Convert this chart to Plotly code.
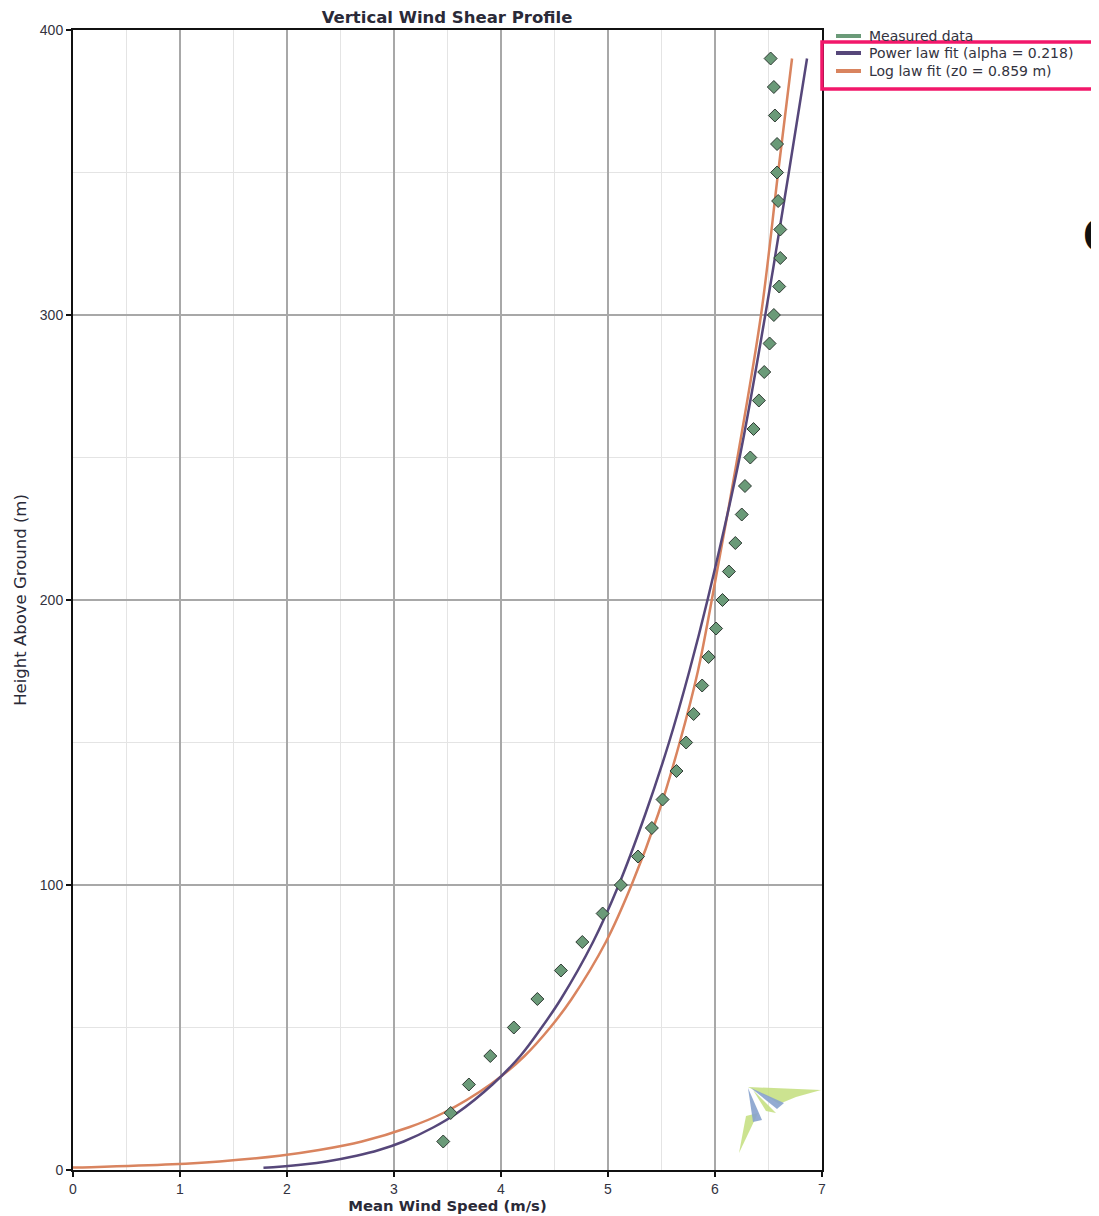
import plotly.graph_objects as go

# ---------------- data ----------------
meas_height = [10, 20, 30, 40, 50, 60, 70, 80, 90, 100, 110, 120, 130, 140, 150,
               160, 170, 180, 190, 200, 210, 220, 230, 240, 250, 260, 270, 280,
               290, 300, 310, 320, 330, 340, 350, 360, 370, 380, 390]
meas_speed = [3.46, 3.53, 3.70, 3.90, 4.12, 4.34, 4.56, 4.76, 4.95, 5.12, 5.28, 5.41,
              5.51, 5.64, 5.73, 5.80, 5.88, 5.94, 6.01, 6.07, 6.13, 6.19, 6.25, 6.28,
              6.33, 6.36, 6.41, 6.46, 6.51, 6.55, 6.60, 6.61, 6.61, 6.59, 6.58, 6.58,
              6.56, 6.55, 6.52]

power_height = [0.8, 1, 2, 3, 5, 7, 10, 15, 20, 30, 40, 50, 60, 80, 100, 125, 150,
                175, 200, 250, 300, 350, 390]
power_speed = [1.78, 1.87, 2.17, 2.37, 2.65, 2.86, 3.09, 3.37, 3.59, 3.92, 4.18, 4.38,
               4.56, 4.86, 5.10, 5.35, 5.57, 5.76, 5.93, 6.23, 6.47, 6.69, 6.86]

log_height = [0.86, 1, 2, 3, 5, 7, 10, 15, 20, 30, 40, 50, 60, 80, 100, 125, 150,
              175, 200, 250, 300, 350, 390]
log_speed = [0.0, 0.17, 0.93, 1.37, 1.93, 2.30, 2.70, 3.14, 3.46, 3.90, 4.22, 4.46,
             4.66, 4.98, 5.22, 5.47, 5.67, 5.84, 5.97, 6.21, 6.43, 6.59, 6.72]

x_ticks = [0, 1, 2, 3, 4, 5, 6, 7]
y_ticks = [0, 100, 200, 300, 400]

title_text = "Vertical Wind Shear Profile"
x_title = "Mean Wind Speed (m/s)"
y_title = "Height Above Ground (m)"
name_meas = "Measured data"
name_power = "Power law fit (alpha = 0.218)"
name_log = "Log law fit (z0 = 0.859 m)"

# ---------------- styling ----------------
OFF = 8                      # page body margin of the html output
W, H = 1099 - OFF, 1216 - OFF
L, T = 73 - OFF, 30 - OFF
PW, PH = 749, 1140           # plot area size in pixels
R, B = W - L - PW, H - T - PH
FONT = "Liberation Sans, Arial, sans-serif"
WIDE = "DejaVu Sans, Verdana, sans-serif"
GREEN = "#6a9a78"
PURPLE = "#56477a"
ORANGE = "#d9845f"
TXT = "#333340"


def px2paper(px, py):
    """page pixel -> paper fraction (for decorations only)"""
    return (px - OFF - L) / PW, (T + PH - (py - OFF)) / PH


fig = go.Figure()

fig.add_trace(go.Scatter(
    x=log_speed, y=log_height, mode="lines", name=name_log,
    line=dict(color=ORANGE, width=2.5, shape="spline")))
fig.add_trace(go.Scatter(
    x=power_speed, y=power_height, mode="lines", name=name_power,
    line=dict(color=PURPLE, width=2.5, shape="spline")))
fig.add_trace(go.Scatter(
    x=meas_speed, y=meas_height, mode="markers", name=name_meas,
    marker=dict(symbol="diamond", size=10, color=GREEN,
                line=dict(color="#2f3a33", width=1))))

shapes = []
annotations = []

# hand-placed legend (line swatches + labels)
for (nm, col, py) in [(name_meas, GREEN, 36), (name_power, PURPLE, 53), (name_log, ORANGE, 71)]:
    ax0, ay = px2paper(836, py)
    ax1, _ = px2paper(861, py)
    shapes.append(dict(type="line", xref="paper", yref="paper", x0=ax0, x1=ax1, y0=ay, y1=ay,
                       line=dict(color=col, width=4)))
    tx, _ = px2paper(867, py)
    annotations.append(dict(text=nm, xref="paper", yref="paper", x=tx, y=ay,
                            xanchor="left", yanchor="middle", showarrow=False,
                            font=dict(family=WIDE, size=14, color=TXT)))

# pink highlight box around two legend entries
x0, y0 = px2paper(822, 89)
x1, y1 = px2paper(1115, 42)
shapes.append(dict(type="rect", xref="paper", yref="paper", x0=x0, y0=y0, x1=x1, y1=y1,
                   line=dict(color="#f2176a", width=3.5), fillcolor="rgba(0,0,0,0)"))


def poly(points, color):
    pts = [px2paper(a, b) for a, b in points]
    path = "M " + " L ".join(f"{a:.4f},{b:.4f}" for a, b in pts) + " Z"
    return dict(type="path", xref="paper", yref="paper", path=path,
                fillcolor=color, line=dict(width=0), layer="above")


# small logo in the lower right corner
LG = "rgba(195,222,125,0.85)"
BL = "rgba(135,162,205,0.9)"
shapes.append(poly([(748, 1087), (821, 1090), (796, 1097), (779, 1104), (768, 1097)], LG))
shapes.append(poly([(746, 1116), (758, 1113), (739, 1153)], LG))
shapes.append(poly([(753, 1090), (776, 1113), (766, 1111)], LG))
shapes.append(poly([(748, 1088), (762, 1120), (753, 1122)], BL))
shapes.append(poly([(751, 1088), (784, 1103), (777, 1109)], BL))

# partial letter at the right edge
cx, cy = px2paper(1081, 235)
annotations.append(dict(text="<b>C</b>", xref="paper", yref="paper", x=cx, y=cy,
                        xanchor="left", yanchor="middle", showarrow=False,
                        font=dict(family=FONT, size=48, color="#111111")))

fig.update_layout(
    width=W, height=H,
    margin=dict(l=L, r=R, t=T, b=B, pad=0, autoexpand=False),
    paper_bgcolor="white", plot_bgcolor="white",
    font=dict(family=FONT, size=14, color=TXT),
    title=dict(text=f"<b>{title_text}</b>", x=px2paper(447, 0)[0], xref="paper",
               y=1 - (17 - OFF) / H, yanchor="middle", xanchor="center",
               font=dict(family=WIDE, size=16.5, color="#2a2a38")),
    showlegend=False,
    shapes=shapes,
    annotations=annotations,
)

fig.update_xaxes(
    range=[0, 7], tickvals=x_ticks, ticktext=[str(v) for v in x_ticks],
    showgrid=True, gridcolor="#a8a8a8", gridwidth=1.5,
    minor=dict(dtick=0.5, showgrid=True, gridcolor="#e4e4e4", gridwidth=1, ticks=""),
    showline=True, linecolor="#111111", linewidth=2, mirror=True,
    ticks="outside", ticklen=5, tickcolor="#111111", tickwidth=1.5,
    zeroline=False, tickfont=dict(size=14), automargin=False,
    title=dict(text=f"<b>{x_title}</b>", font=dict(family=WIDE, size=14.8, color="#2a2a38"),
               standoff=4),
)
fig.update_yaxes(
    range=[0, 400], tickvals=y_ticks, ticktext=[str(v) for v in y_ticks],
    showgrid=True, gridcolor="#a8a8a8", gridwidth=1.5,
    minor=dict(dtick=50, showgrid=True, gridcolor="#e4e4e4", gridwidth=1, ticks=""),
    showline=True, linecolor="#111111", linewidth=2, mirror=True,
    ticks="outside", ticklen=5, tickcolor="#111111", tickwidth=1.5,
    zeroline=False, tickfont=dict(size=14), automargin=False,
    title=dict(text=y_title, font=dict(family=WIDE, size=16.5, color="#2a2a38"), standoff=9),
)

fig.write_html("out.html")
